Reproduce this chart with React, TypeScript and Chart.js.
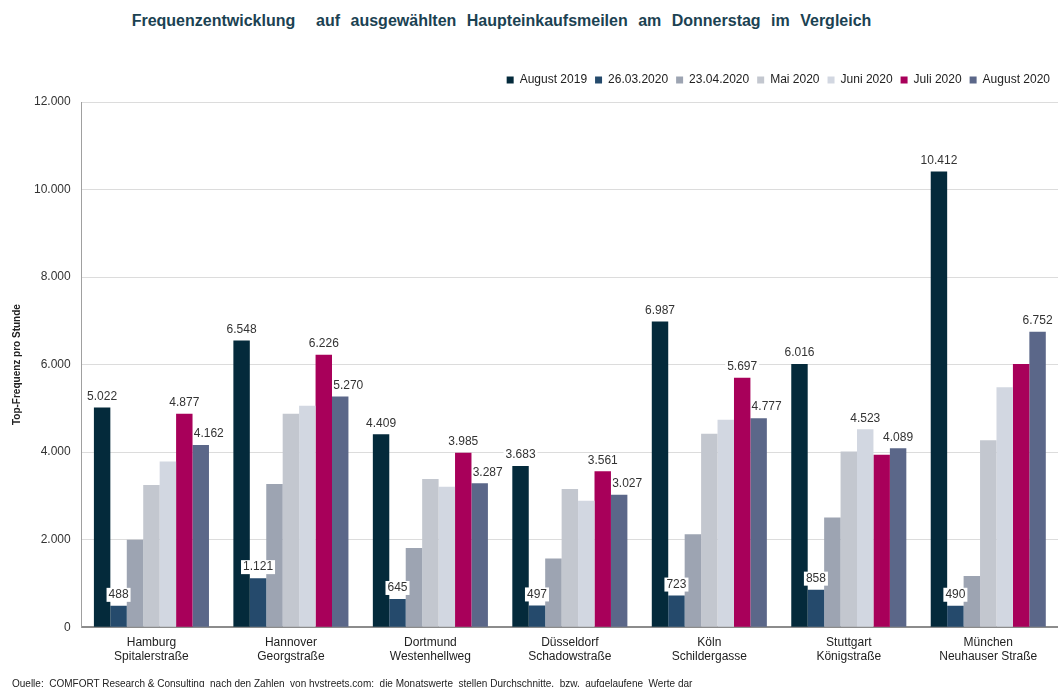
import React, { useEffect, useRef } from "react";
import { Chart, registerables } from "chart.js";

Chart.register(...registerables);

const categories: string[][] = [
  ["Hamburg", "Spitalerstraße"],
  ["Hannover", "Georgstraße"],
  ["Dortmund", "Westenhellweg"],
  ["Düsseldorf", "Schadowstraße"],
  ["Köln", "Schildergasse"],
  ["Stuttgart", "Königstraße"],
  ["München", "Neuhauser Straße"],
];

const seriesNames = ["August 2019", "26.03.2020", "23.04.2020", "Mai 2020", "Juni 2020", "Juli 2020", "August 2020"];

const aug2019 = [5022, 6548, 4409, 3683, 6987, 6016, 10412];
const mar2020 = [488, 1121, 645, 497, 723, 858, 490];
const apr2020 = [2000, 3273, 1812, 1567, 2126, 2507, 1170];
const mai2020 = [3250, 4878, 3387, 3158, 4420, 4014, 4273];
const juni2020 = [3784, 5062, 3211, 2890, 4741, 4523, 5482];
const juli2020 = [4877, 6226, 3985, 3561, 5697, 3938, 6016];
const aug2020 = [4162, 5270, 3287, 3027, 4777, 4089, 6752];

const yTicks = [0, 2000, 4000, 6000, 8000, 10000, 12000];

// which values carry a data label
const labelAug2019 = [true, true, true, true, true, true, true];
const labelMar2020 = [true, true, true, true, true, true, true];
const labelApr2020 = [false, false, false, false, false, false, false];
const labelMai2020 = [false, false, false, false, false, false, false];
const labelJuni2020 = [false, false, false, false, false, true, false];
const labelJuli2020 = [true, true, true, true, true, false, false];
const labelAug2020 = [true, true, true, true, true, true, true];

const colors = ["#042a3b", "#254a6c", "#9da4b2", "#c3c7cf", "#d2d7e1", "#a8005a", "#5b6789"];

const FONT = "'Liberation Sans', Arial, sans-serif";

const fmt = (v: number) => String(Math.round(v)).replace(/\B(?=(\d{3})+(?!\d))/g, ".");

const legendGap = {
  id: "legendGap",
  beforeInit(chart: any) {
    const legend = chart.legend;
    if (!legend) return;
    const orig = legend.fit;
    legend.fit = function () {
      orig.call(this);
      this.height += 6;
    };
  },
};

const labelPlugin = {
  id: "barLabels",
  afterDatasetsDraw(chart: any) {
    const ctx = chart.ctx;
    ctx.save();
    ctx.font = "12px " + FONT;
    ctx.textAlign = "center";
    ctx.textBaseline = "middle";
    chart.data.datasets.forEach((ds: any, di: number) => {
      const meta = chart.getDatasetMeta(di);
      meta.data.forEach((el: any, i: number) => {
        if (!ds.showLabels[i]) return;
        const txt = fmt(ds.data[i]);
        const w = ctx.measureText(txt).width;
        const y = el.y - 11;
        let x = el.x;
        let bg = true;
        // nudge a label to the right when the bar on its left rises through it
        if (di > 1) {
          const prev = chart.getDatasetMeta(di - 1).data[i];
          if (prev && prev.y < y + 7) {
            x = el.x + 8;
            bg = false;
          }
        }
        if (bg) {
          ctx.fillStyle = "#ffffff";
          ctx.fillRect(x - w / 2 - 2, y - 7, w + 4, 14);
        }
        ctx.fillStyle = "#333333";
        ctx.fillText(txt, x, y);
      });
    });
    ctx.restore();
  },
};

export default function App() {
  const ref = useRef<HTMLCanvasElement>(null);
  useEffect(() => {
    if (!ref.current) return;
    const seriesData = [aug2019, mar2020, apr2020, mai2020, juni2020, juli2020, aug2020];
    const seriesLabels = [labelAug2019, labelMar2020, labelApr2020, labelMai2020, labelJuni2020, labelJuli2020, labelAug2020];
    const chart = new Chart(ref.current, {
      type: "bar",
      data: {
        labels: categories as any,
        datasets: seriesNames.map((name, i) => ({
          label: name,
          data: seriesData[i],
          backgroundColor: colors[i],
          borderWidth: 0,
          barPercentage: 1,
          categoryPercentage: 0.825,
          showLabels: seriesLabels[i],
        })) as any,
      },
      options: {
        animation: false,
        responsive: false,
        maintainAspectRatio: false,
        layout: { padding: { top: 66, left: 11, right: 0, bottom: 23 } },
        plugins: {
          legend: {
            position: "top",
            align: "end",
            labels: {
              boxWidth: 7,
              boxHeight: 7,
              padding: 8,
              color: "#222",
              font: { size: 12, family: FONT },
            },
          },
          title: { display: false },
          tooltip: { enabled: false },
        },
        scales: {
          x: {
            grid: { display: false },
            border: { color: "#8c8c8c", width: 2 },
            ticks: {
              color: "#222",
              font: { size: 12, family: FONT },
              maxRotation: 0,
              padding: 0,
            },
          },
          y: {
            min: 0,
            max: 12000,
            afterBuildTicks: (axis: any) => {
              axis.ticks = yTicks.map((v) => ({ value: v }));
            },
            grid: { color: "#dcdcdc", drawTicks: false },
            border: { color: "#a0a0a0", width: 1 },
            ticks: {
              color: "#333",
              padding: 11,
              font: { size: 12, family: FONT },
              callback: (v: any) => fmt(Number(v)),
            },
            title: {
              display: true,
              text: "Top-Frequenz pro Stunde",
              color: "#222",
              font: { size: 10, weight: "bold", family: FONT },
              padding: { top: 0, bottom: 0 },
            },
          },
        },
      },
      plugins: [labelPlugin, legendGap],
    });
    return () => chart.destroy();
  }, []);

  return (
    <div style={{ position: "fixed", left: 0, top: 0, width: 1058, height: 687, background: "#fff", overflow: "hidden", fontFamily: FONT }}>
      <div style={{ position: "absolute", left: 0, top: 12, width: 1003, textAlign: "center", fontSize: 16, fontWeight: "bold", color: "#1b4252", whiteSpace: "pre", wordSpacing: 6 }}>
        {"Frequenzentwicklung  auf ausgewählten Haupteinkaufsmeilen am Donnerstag im Vergleich"}
      </div>
      <canvas ref={ref} width={1058} height={687} style={{ position: "absolute", left: 0, top: 0 }} />
      <div style={{ position: "absolute", left: 12, top: 678, fontSize: 10, color: "#222", whiteSpace: "pre" }}>
        {"Quelle:  COMFORT Research & Consulting  nach den Zahlen  von hystreets.com;  die Monatswerte  stellen Durchschnitte,  bzw.  aufgelaufene  Werte dar"}
      </div>
    </div>
  );
}
